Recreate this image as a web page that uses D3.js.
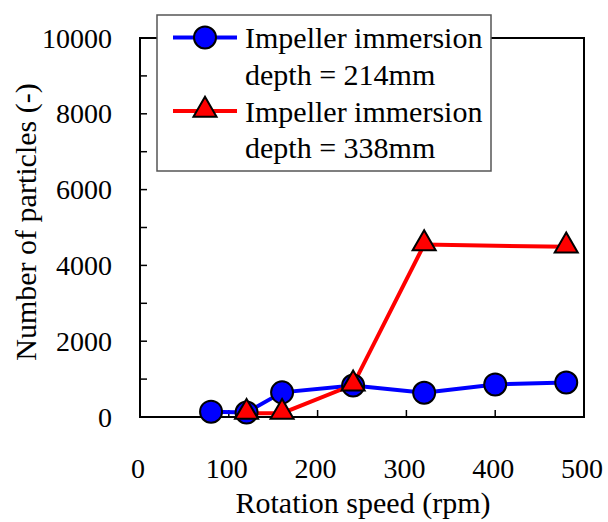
<!DOCTYPE html>
<html><head><meta charset="utf-8">
<script src="https://cdn.jsdelivr.net/npm/d3@7"></script>
<style>
body{margin:0;background:#fff}
#wrap{position:relative;width:608px;height:522px}
#wrap svg{position:absolute;left:0;top:0;display:block}
.lbl{position:absolute;white-space:nowrap;color:#000;font-family:"Liberation Serif","Times New Roman",serif;margin:0;padding:0}
</style>
</head><body>
<div id="wrap"><svg id="c" width="608" height="522"></svg></div>
<script>
const speed214 = [80, 120, 160, 240, 320, 400, 480];
const count214 = [140, 120, 650, 830, 640, 860, 910];
const speed338 = [120, 160, 240, 320, 480];
const count338 = [100, 100, 850, 4550, 4490];
const xTicks = [0, 100, 200, 300, 400, 500];
const yTicks = [0, 2000, 4000, 6000, 8000, 10000];
const yMinor = [1000, 3000, 5000, 7000, 9000];
const seriesNames = [["Impeller immersion", "depth = 214mm"], ["Impeller immersion", "depth = 338mm"]];

const svg = d3.select("#c");
const wrap = d3.select("#wrap");
const L = 140, R = 584, T = 38, B = 417;
const x = d3.scaleLinear().domain([0, 500]).range([L, R]);
const y = d3.scaleLinear().domain([0, 10000]).range([B, T]);
const ASC = 0.8375; // baseline offset inside a line box of line-height 1

// HTML text label: anchor 'start' | 'middle' | 'end', (bx, by) is the baseline point
function label(txt, bx, by, fs, anchor) {
  const tx = anchor === "middle" ? "-50%" : anchor === "end" ? "-100%" : "0";
  return wrap.append("div").attr("class", "lbl")
    .style("font-size", fs + "px").style("line-height", fs + "px")
    .style("left", bx + "px").style("top", (by - ASC * fs) + "px")
    .style("transform", `translate(${tx},0)`)
    .text(txt);
}

// frame
svg.append("rect").attr("x", L).attr("y", T).attr("width", R - L).attr("height", B - T)
  .attr("fill", "none").attr("stroke", "#000").attr("stroke-width", 2);

// y ticks (inside)
svg.append("g").selectAll("line").data(yTicks.concat(yMinor)).join("line")
  .attr("x1", L).attr("x2", L + 7).attr("y1", d => y(d)).attr("y2", d => y(d))
  .attr("stroke", "#000").attr("stroke-width", 1.5);
yTicks.forEach(d => label(String(d), L - 28, y(d) + 10, 28, "end"));

// x ticks (inside)
svg.append("g").selectAll("line").data(xTicks).join("line")
  .attr("x1", d => x(d)).attr("x2", d => x(d)).attr("y1", B).attr("y2", B - 7)
  .attr("stroke", "#000").attr("stroke-width", 1.5);
xTicks.forEach(d => label(String(d), x(d) - 2, 478, 28, "middle"));

// axis titles
label("Rotation speed (rpm)", 363, 513, 30, "middle");
wrap.append("div").attr("class", "lbl")
  .style("font-size", "30px").style("line-height", "30px")
  .style("left", "36px").style("top", "222px")
  .style("transform-origin", "0 0")
  .style("transform", `rotate(-90deg) translate(-50%, ${-ASC * 30}px)`)
  .text("Number of particles (-)");

const line = d3.line().x(d => x(d[0])).y(d => y(d[1]));
const d214 = speed214.map((s, i) => [s, count214[i]]);
const d338 = speed338.map((s, i) => [s, count338[i]]);

const tri = d3.symbol().type(d3.symbolTriangle).size(230);

svg.append("path").datum(d214).attr("d", line).attr("fill", "none")
  .attr("stroke", "#0000ff").attr("stroke-width", 4);
svg.append("path").datum(d338).attr("d", line).attr("fill", "none")
  .attr("stroke", "#ff0000").attr("stroke-width", 4);

svg.append("g").selectAll("circle").data(d214).join("circle")
  .attr("cx", d => x(d[0])).attr("cy", d => y(d[1])).attr("r", 11)
  .attr("fill", "#0000ff").attr("stroke", "#000").attr("stroke-width", 2);
svg.append("g").selectAll("path").data(d338).join("path")
  .attr("d", tri).attr("transform", d => `translate(${x(d[0])},${y(d[1]) - 1})`)
  .attr("fill", "#ff0000").attr("stroke", "#000").attr("stroke-width", 2);

// legend
const lg = svg.append("g");
lg.append("rect").attr("x", 157).attr("y", 15).attr("width", 334).attr("height", 156)
  .attr("fill", "#fff").attr("stroke", "#555").attr("stroke-width", 1.5);
const baselines = [48, 85, 122, 158];
const markerY = [37.5, 111];
[0, 1].forEach(i => {
  const yy = markerY[i];
  lg.append("line").attr("x1", 173).attr("x2", 237).attr("y1", yy).attr("y2", yy)
    .attr("stroke", i === 0 ? "#0000ff" : "#ff0000").attr("stroke-width", 4);
  if (i === 0) {
    lg.append("circle").attr("cx", 205).attr("cy", yy).attr("r", 11)
      .attr("fill", "#0000ff").attr("stroke", "#000").attr("stroke-width", 2);
  } else {
    lg.append("path").attr("d", tri).attr("transform", `translate(205,${yy - 1})`)
      .attr("fill", "#ff0000").attr("stroke", "#000").attr("stroke-width", 2);
  }
  seriesNames[i].forEach((t, k) => label(t, 245, baselines[i * 2 + k], 30, "start"));
});
</script>
</body></html>
